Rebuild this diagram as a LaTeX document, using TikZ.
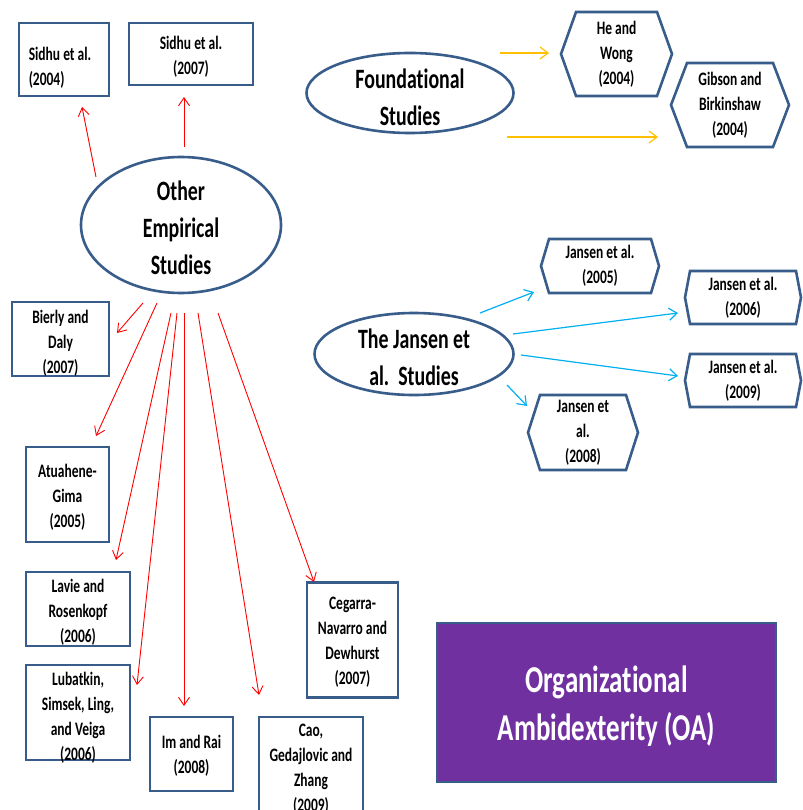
\documentclass[tikz,border=0pt]{standalone}
\usepackage{fontspec}
\setmainfont{Carlito}[FakeStretch=0.71,Ligatures=CommonOff]
\usetikzlibrary{arrows.meta,shapes.geometric}
\definecolor{bord}{HTML}{385D8A}
\definecolor{oapurple}{HTML}{7030A0}
\definecolor{arred}{HTML}{FF0000}
\definecolor{aryel}{HTML}{FFC000}
\definecolor{arblue}{HTML}{00B0F0}
\newcommand\boxfnt{\bfseries\fontsize{19}{25}\selectfont}
\newcommand\ellfnt{\bfseries\fontsize{28}{37}\selectfont}
\newcommand\oafnt{\bfseries\fontsize{38}{48}\selectfont}
\newcommand\hexout[2]{\draw[draw=bord,line width=2.6pt,line join=miter]
  (#1.west) -- ([xshift=#2]#1.north west) -- ([xshift=-#2]#1.north east) --
  (#1.east) -- ([xshift=-#2]#1.south east) -- ([xshift=#2]#1.south west) -- cycle;}
% name, cx, cy, width, height, text y offset, text
\newcommand\tbox[7]{%
  \node[rbox,minimum width=#4,minimum height=#5] (#1) at (#2,#3) {};
  \node[txtn,align=center] (#1t) at (#2,#3+#6) {#7};}
\begin{document}
\begin{tikzpicture}[x=1pt,y=-1pt,
  rbox/.style={draw=bord,line width=2.6pt,inner sep=0pt,outer sep=0pt},
  txtn/.style={inner sep=0pt,outer sep=0pt,font=\boxfnt},
  hexn/.style={inner sep=0pt,outer sep=0pt,align=center,font=\boxfnt},
  ell/.style={ellipse,draw=bord,line width=2.6pt,fill=white,inner sep=0pt,outer sep=0pt},
  elltxt/.style={align=center,font=\ellfnt,inner sep=0pt},
  redarr/.style={draw=arred,line width=0.9pt,-{Straight Barb[length=8pt,width=11pt,line width=0.9pt]}},
  yelarr/.style={draw=aryel,line width=1.2pt,-{Straight Barb[length=8pt,width=12pt,line width=1.2pt]}},
  bluarr/.style={draw=arblue,line width=1.2pt,-{Straight Barb[length=8pt,width=12pt,line width=1.2pt]}}]
\useasboundingbox[fill=white] (0,0) rectangle (802,810);

% ---- rectangle boxes
\node[rbox,minimum width=90,minimum height=73] (s04) at (64,59.5) {};
\node[txtn,align=left] (s04t) at (60,68) {Sidhu et al.\\(2004)};
\tbox{s07}{191}{54}{124}{62}{3}{Sidhu et al.\\(2007)}
\tbox{bd}{60.5}{339}{97}{74}{4}{Bierly and\\Daly\\(2007)}
\tbox{ag}{67.5}{494.5}{83}{95}{3}{Atuahene-\\Gima\\(2005)}
\tbox{lr}{78}{609}{104}{74}{3}{Lavie and\\Rosenkopf\\(2006)}
\tbox{lu}{78}{712.5}{104}{95}{5}{Lubatkin,\\Simsek, Ling,\\and Veiga\\(2006)}
\tbox{ir}{191.5}{754}{83}{74}{2}{Im and Rai\\(2008)}
\tbox{cao}{311}{767.5}{104}{101}{2}{Cao,\\Gedajlovic and\\Zhang\\(2009)}
\tbox{cn}{352.5}{640}{91}{115}{2}{Cegarra-\\Navarro and\\Dewhurst\\(2007)}

% ---- OA box
\node[draw=bord,fill=oapurple,line width=2.6pt,inner sep=0pt,minimum width=339,minimum height=159] (oa) at (606.5,702.5) {};
\node[align=center,font=\oafnt,text=white,inner sep=0pt] (oat) at (606.5,706) {Organizational\\Ambidexterity (OA)};

% ---- ellipses
\node[ell,minimum width=200,minimum height=136] (oes) at (181,225) {};
\node[elltxt] (oest) at (181,228) {Other\\Empirical\\Studies};
\node[ell,minimum width=207,minimum height=80] (fs) at (410,93) {};
\node[elltxt] (fst) at (410,97) {Foundational\\Studies};
\node[ell,minimum width=199,minimum height=82] (js) at (414,354) {};
\node[elltxt] (jst) at (414,357) {The Jansen et\\al.\ \ Studies};

% ---- hexagons
\node[hexn,minimum width=111,minimum height=84] (hw) at (616.5,54) {He and\\Wong\\(2004)};
\hexout{hw}{15}
\node[hexn,minimum width=118,minimum height=84] (gb) at (730,105) {Gibson and\\Birkinshaw\\(2004)};
\hexout{gb}{16}
\node[hexn,minimum width=118,minimum height=54] (j05) at (600,266) {Jansen et al.\\(2005)};
\hexout{j05}{8}
\node[hexn,minimum width=116,minimum height=53] (j06) at (743,297.5) {Jansen et al.\\(2006)};
\hexout{j06}{5}
\node[hexn,minimum width=116,minimum height=53] (j09) at (743,380.5) {Jansen et al.\\(2009)};
\hexout{j09}{5}
\node[hexn,minimum width=110,minimum height=75] (j08) at (583,432.5) {Jansen et\\al.\\(2008)};
\hexout{j08}{12}

% ---- connector end points
\coordinate (y1s) at (500,53);  \coordinate (y1e) at (549,53);
\coordinate (y2s) at (507,137); \coordinate (y2e) at (658,137);
\coordinate (b1s) at (480,313); \coordinate (b1e) at (534,292);
\coordinate (b2s) at (513,334); \coordinate (b2e) at (678,313);
\coordinate (b3s) at (521,355); \coordinate (b3e) at (678,376);
\coordinate (b4s) at (507,385); \coordinate (b4e) at (527,406);
\coordinate (r1s) at (96,177);  \coordinate (r1e) at (82,107);
\coordinate (r2s) at (184,147); \coordinate (r2e) at (184,97);
\coordinate (r3s) at (143,303); \coordinate (r3e) at (117,333);
\coordinate (r4s) at (157,303); \coordinate (r4e) at (96,436);
\coordinate (r5s) at (171,313); \coordinate (r5e) at (116,560);
\coordinate (r6s) at (177,313); \coordinate (r6e) at (137,685);
\coordinate (r7s) at (184,313); \coordinate (r7e) at (184,706);
\coordinate (r8s) at (198,313); \coordinate (r8e) at (259,695);
\coordinate (r9s) at (218,313); \coordinate (r9e) at (314,582);

\draw[yelarr] (y1s) -- (y1e);
\draw[yelarr] (y2s) -- (y2e);
\draw[bluarr] (b1s) -- (b1e);
\draw[bluarr] (b2s) -- (b2e);
\draw[bluarr] (b3s) -- (b3e);
\draw[bluarr] (b4s) -- (b4e);
\foreach \i in {1,...,9} {\draw[redarr] (r\i s) -- (r\i e);}
\end{tikzpicture}
\end{document}
